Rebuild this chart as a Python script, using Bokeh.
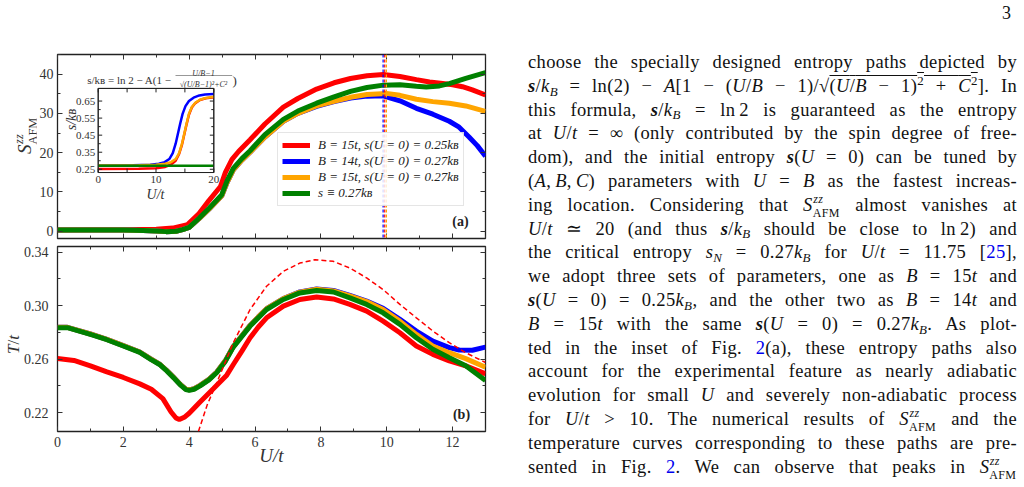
import math
from bokeh.plotting import figure
from bokeh.models import (Range1d, LinearAxis, FixedTicker, Legend, LegendItem, Span,
                          Label, Div, BoxAnnotation, PrintfTickFormatter, CustomLabelingPolicy)
from bokeh.layouts import row, column
from bokeh.embed import file_html
from bokeh.resources import INLINE
from bokeh.core.properties import value

SERIF = "Liberation Serif"
RED, BLUE, ORANGE, GREEN = "#ff0000", "#0000ff", "#ffa500", "#008000"
AXC = "#333333"

# ---------------- data: panel (a) S^zz_AFM vs U/t ----------------
U_a_red = [0.0, 1.0, 2.0, 3.0, 3.5, 3.95, 4.3, 4.6, 4.95, 5.1, 5.3, 5.5, 5.85, 6.3, 6.86,
           7.3, 7.87, 8.4, 8.9, 9.4, 9.9, 10.4, 10.9, 11.3, 11.7, 12.0, 12.3, 12.6, 13.0]
S_red = [0.3, 0.35, 0.4, 0.5, 0.8, 1.7, 4.5, 7.8, 11.4, 15.0, 18.3, 20.3, 23.3, 27.3, 31.6,
         33.8, 36.2, 37.8, 38.9, 39.6, 39.9, 39.4, 38.6, 38.0, 37.6, 37.3, 36.8, 36.0, 34.7]

U_a_blue = [0.0, 1.0, 2.0, 2.6, 3.0, 3.3, 3.6, 3.8, 4.0, 4.3, 4.6, 4.99, 5.15, 5.34, 5.6, 5.85,
            6.3, 6.86, 7.3, 7.87, 8.4, 8.9, 9.4, 9.89, 10.4, 10.9, 11.4, 11.9, 12.2, 12.5, 12.75, 13.0]
S_blue = [0.3, 0.3, 0.3, 0.2, 0.05, -0.1, 0.0, 0.4, 1.0, 3.2, 5.6, 9.0, 12.4, 15.6, 18.1, 20.1,
          24.0, 28.0, 30.0, 31.8, 33.0, 33.9, 34.4, 34.5, 33.2, 31.3, 29.8, 28.0, 26.5, 24.0, 21.8, 19.1]

U_a_orange = [0.0, 1.0, 2.0, 2.6, 3.0, 3.3, 3.6, 3.8, 4.0, 4.3, 4.6, 4.99, 5.15, 5.34, 5.6, 5.85,
              6.3, 6.86, 7.3, 7.87, 8.4, 8.9, 9.4, 9.99, 10.4, 10.9, 11.4, 11.9, 12.4, 13.0]
S_orange = [0.3, 0.3, 0.3, 0.2, 0.05, -0.1, 0.0, 0.4, 1.0, 3.2, 5.6, 9.0, 12.4, 15.6, 18.1, 20.1,
            24.0, 28.0, 30.0, 31.9, 33.1, 34.1, 34.8, 35.1, 34.6, 33.6, 33.0, 32.6, 31.9, 30.5]

U_a_green = [0.0, 1.0, 2.0, 2.6, 3.0, 3.3, 3.6, 3.8, 4.0, 4.3, 4.6, 4.99, 5.15, 5.34, 5.6, 5.85,
             6.3, 6.86, 7.3, 7.87, 8.4, 8.9, 9.4, 9.9, 10.4, 10.9, 11.2, 11.6, 11.9, 12.4, 13.0]
S_green = [0.3, 0.3, 0.3, 0.2, 0.05, -0.1, 0.0, 0.4, 1.0, 3.3, 5.8, 9.3, 12.8, 16.0, 18.5, 20.5,
           24.6, 28.5, 30.6, 32.6, 34.2, 35.6, 36.6, 37.2, 37.3, 36.9, 36.7, 37.0, 37.6, 38.9, 40.4]

# peak positions (vertical dotted lines)
PEAK_U = [9.94, 9.89, 9.99]
PEAK_COLORS = [RED, BLUE, ORANGE]

# ---------------- data: panel (b) T/t vs U/t ----------------
U_b_red = [0.0, 0.5, 1.0, 1.5, 2.0, 2.5, 2.85, 3.2, 3.45, 3.6, 3.7, 3.85, 4.0, 4.33, 4.74, 5.14,
           5.34, 5.6, 5.85, 6.1, 6.35, 6.86, 7.36, 7.87, 8.38, 8.88, 9.39, 9.89, 10.4, 10.9, 11.4,
           11.9, 12.4, 13.0]
T_red = [0.2604, 0.2590, 0.2550, 0.2505, 0.2463, 0.2415, 0.2375, 0.2305, 0.2205, 0.2160, 0.2148,
         0.2165, 0.2195, 0.2280, 0.2380, 0.2480, 0.2560, 0.2660, 0.2760, 0.2840, 0.2909, 0.2996,
         0.3046, 0.3065, 0.3050, 0.3009, 0.2959, 0.2884, 0.2797, 0.2698, 0.2636, 0.2587, 0.2550,
         0.2490]

U_b_blue = [0.0, 0.3, 1.0, 1.5, 2.0, 2.5, 2.82, 3.1, 3.32, 3.55, 3.73, 3.9, 4.0, 4.15, 4.33, 4.6,
            4.84, 5.1, 5.34, 5.6, 5.85, 6.1, 6.35, 6.86, 7.36, 7.87, 8.38, 8.88, 9.39, 9.89, 10.4,
            10.9, 11.4, 11.9, 12.2, 12.6, 13.0]
T_blue = [0.2838, 0.2838, 0.2788, 0.2748, 0.2701, 0.2653, 0.2603, 0.2563, 0.2515, 0.2458, 0.2411,
          0.2376, 0.2370, 0.2379, 0.2404, 0.2449, 0.2504, 0.2589, 0.2694, 0.2775, 0.2852, 0.2916,
          0.2977, 0.3053, 0.3103, 0.3124, 0.3113, 0.3076, 0.3034, 0.2980, 0.2897, 0.2810, 0.2735,
          0.2686, 0.2668, 0.2666, 0.2690]

U_b_orange = [0.0, 0.3, 1.0, 1.5, 2.0, 2.5, 2.82, 3.1, 3.32, 3.55, 3.73, 3.9, 4.0, 4.15, 4.33, 4.6,
              4.84, 5.1, 5.34, 5.6, 5.85, 6.1, 6.35, 6.86, 7.36, 7.87, 8.38, 8.88, 9.39, 9.89, 10.4,
              10.9, 11.4, 11.9, 12.4, 13.0]
T_orange = [0.2838, 0.2838, 0.2788, 0.2748, 0.2701, 0.2653, 0.2603, 0.2563, 0.2515, 0.2458, 0.2411,
            0.2376, 0.2370, 0.2379, 0.2404, 0.2449, 0.2504, 0.2589, 0.2694, 0.2775, 0.2852, 0.2916,
            0.2977, 0.3052, 0.3101, 0.3122, 0.3110, 0.3072, 0.3030, 0.2971, 0.2884, 0.2785, 0.2698,
            0.2648, 0.2604, 0.2540]

U_b_green = [0.0, 0.3, 1.0, 1.5, 2.0, 2.5, 2.82, 3.1, 3.32, 3.55, 3.73, 3.9, 4.0, 4.15, 4.33, 4.6,
             4.84, 5.1, 5.34, 5.6, 5.85, 6.1, 6.35, 6.86, 7.36, 7.87, 8.38, 8.88, 9.39, 9.89, 10.4,
             10.9, 11.4, 11.9, 12.4, 13.0]
T_green = [0.2835, 0.2835, 0.2785, 0.2745, 0.2698, 0.2650, 0.2600, 0.2560, 0.2512, 0.2455, 0.2408,
           0.2372, 0.2366, 0.2375, 0.2400, 0.2445, 0.2500, 0.2585, 0.2690, 0.2770, 0.2847, 0.2910,
           0.2971, 0.3046, 0.3095, 0.3113, 0.3102, 0.3058, 0.3009, 0.2946, 0.2860, 0.2760, 0.2674,
           0.2611, 0.2550, 0.2440]

U_b_dash = [4.28, 4.55, 4.84, 5.34, 5.85, 6.35, 6.86, 7.36, 7.82, 8.38, 8.88, 9.39, 9.89, 10.4,
            10.9, 11.4, 11.9, 12.4, 12.9, 13.0]
T_dash = [0.2059, 0.2260, 0.2425, 0.2723, 0.2971, 0.3145, 0.3256, 0.3318, 0.3343, 0.3331, 0.3281,
          0.3207, 0.3120, 0.3009, 0.2909, 0.2810, 0.2723, 0.2648, 0.2587, 0.2575]

# ---------------- data: inset s/k_B vs U/t ----------------
U_in_red = [0, 7, 10, 11.6, 12.6, 13.4, 14.0, 14.5, 14.9, 15.3, 15.7, 16.2, 16.8, 17.6, 18.6, 20]
s_in_red = [0.252, 0.253, 0.256, 0.264, 0.278, 0.300, 0.340, 0.395, 0.455, 0.515, 0.570, 0.612,
            0.638, 0.656, 0.666, 0.672]
U_in_blue = [0, 6, 9, 10.5, 11.5, 12.3, 12.9, 13.4, 13.8, 14.2, 14.6, 15.1, 15.7, 16.5, 17.5, 18.5, 20]
s_in_blue = [0.272, 0.273, 0.276, 0.282, 0.292, 0.310, 0.345, 0.400, 0.460, 0.520, 0.575, 0.620,
             0.650, 0.670, 0.683, 0.689, 0.692]
U_in_orange = [0, 7, 10, 11.6, 12.6, 13.4, 14.0, 14.5, 14.9, 15.3, 15.7, 16.2, 16.8, 17.6, 18.6, 20]
s_in_orange = [0.272, 0.273, 0.276, 0.282, 0.292, 0.310, 0.345, 0.400, 0.460, 0.520, 0.575, 0.615,
               0.640, 0.658, 0.668, 0.675]
U_in_green = [0, 20]
s_in_green = [0.270, 0.270]

# ---------------- ticks / labels ----------------
X_TICKS = [0, 2, 4, 6, 8, 10, 12]
X_MINOR = [1, 3, 5, 7, 9, 11, 13]
SA_TICKS = [0, 10, 20, 30, 40]
SA_MINOR = [5, 15, 25, 35, 45]
T_TICKS = [0.22, 0.26, 0.30, 0.34]
T_MINOR = [0.24, 0.28, 0.32]
IN_XTICKS = [0, 5, 10, 15, 20]
IN_XLABEL_POS = [0, 10, 20]
IN_XLABELS = ["0", "10", "20"]
IN_YTICKS = [0.25, 0.35, 0.45, 0.55, 0.65]
IN_YLABELS = ["0.25", "0.35", "0.45", "0.55", "0.65"]
IN_YMINOR = [0.30, 0.40, 0.50, 0.60]
LEGEND_LABELS = ["B = 15t, s(U = 0) = 0.25k\u0299",
                 "B = 14t, s(U = 0) = 0.27k\u0299",
                 "B = 15t, s(U = 0) = 0.27k\u0299",
                 "s \u2261 0.27k\u0299"]

NO_LABELS = CustomLabelingPolicy(code="for (const i of indices) indices.unset(i)\nreturn indices")


def style_axis(ax, ticks, minor, show_labels, font_size="14px", standoff=5):
    ax.ticker = FixedTicker(ticks=ticks, minor_ticks=minor)
    ax.axis_line_color = None
    ax.major_tick_in = 5
    ax.major_tick_out = 0
    ax.minor_tick_in = 3
    ax.minor_tick_out = 0
    ax.major_tick_line_color = AXC
    ax.minor_tick_line_color = AXC
    ax.major_label_text_font = SERIF
    ax.major_label_text_color = AXC
    if show_labels:
        ax.major_label_text_font_size = font_size
        ax.major_label_standoff = standoff
    else:
        ax.major_label_policy = NO_LABELS
        ax.major_label_text_font_size = "1px"
        ax.major_label_standoff = 0


def make_fig(width, height, y_range, left, top, bottom):
    p = figure(width=width, height=height, x_range=Range1d(0, 13), y_range=y_range,
               output_backend="svg", toolbar_location=None,
               min_border_left=left, min_border_right=15,
               min_border_top=top, min_border_bottom=bottom)
    p.add_layout(LinearAxis(), "above")
    p.add_layout(LinearAxis(), "right")
    p.xgrid.grid_line_color = None
    p.ygrid.grid_line_color = None
    p.outline_line_color = "#222222"
    p.outline_line_width = 1.3
    p.background_fill_color = "white"
    p.border_fill_color = "white"
    return p


# ================= panel (a) =================
fa = make_fig(464, 242, Range1d(-1.85, 45), 21, 54, 2)
style_axis(fa.below[0], X_TICKS, X_MINOR, False)
style_axis(fa.above[0], X_TICKS, X_MINOR, False)
style_axis(fa.left[0], SA_TICKS, SA_MINOR, True, "14px", 4)
style_axis(fa.right[0], SA_TICKS, SA_MINOR, False)

r_red = fa.line(U_a_red, S_red, line_color=RED, line_width=5)
r_blue = fa.line(U_a_blue, S_blue, line_color=BLUE, line_width=5)
r_orange = fa.line(U_a_orange, S_orange, line_color=ORANGE, line_width=5)
r_green = fa.line(U_a_green, S_green, line_color=GREEN, line_width=5)

for u, c in zip(PEAK_U, PEAK_COLORS):
    fa.add_layout(Span(location=u, dimension="height", line_color=c, line_width=1.2,
                       line_dash="3 2"))

legend = Legend(items=[LegendItem(label=l, renderers=[r]) for l, r in
                       zip(LEGEND_LABELS, [r_red, r_blue, r_orange, r_green])],
                location=(220, 32), label_text_font=SERIF, label_text_font_size="13px",
                label_text_font_style="italic", label_text_color="#222222",
                glyph_width=28, glyph_height=16, label_height=16, label_standoff=8,
                spacing=0, padding=4, margin=0, border_line_color="#cccccc",
                border_line_width=1, background_fill_alpha=0.85)
fa.add_layout(legend, "center")
fa.add_layout(Label(x=403, y=10, x_units="screen", y_units="screen", text="(a)",
                    text_font=SERIF, text_font_style="bold", text_font_size="14px",
                    text_color="#222222", text_align="center"))

# ---------- inset drawn into panel (a) with its own ranges ----------
FW, FH = 428, 186
IN_BOX_LEFT, IN_BOX_BOTTOM, IN_BOX_W, IN_BOX_H = 40.7, 66.7, 115.6, 85.0
ix_lim = (0, 20)
iy_lim = (0.231, 0.724)
kx = IN_BOX_W / (ix_lim[1] - ix_lim[0])
ky = IN_BOX_H / (iy_lim[1] - iy_lim[0])
ix0 = ix_lim[0] - IN_BOX_LEFT / kx
iy0 = iy_lim[0] - IN_BOX_BOTTOM / ky
fa.extra_x_ranges = {"ix": Range1d(ix0, ix0 + FW / kx)}
fa.extra_y_ranges = {"iy": Range1d(iy0, iy0 + FH / ky)}
IN = dict(x_range_name="ix", y_range_name="iy")

fa.quad(left=[ix_lim[0]], right=[ix_lim[1]], bottom=[iy_lim[0]], top=[iy_lim[1]],
        fill_color="white", line_color="#222222", line_width=1, **IN)
fa.line(U_in_red, s_in_red, line_color=RED, line_width=2.5, **IN)
fa.line(U_in_blue, s_in_blue, line_color=BLUE, line_width=2.5, **IN)
fa.line(U_in_orange, s_in_orange, line_color=ORANGE, line_width=2.5, **IN)
fa.line(U_in_green, s_in_green, line_color=GREEN, line_width=2.5, **IN)
fa.quad(left=[ix_lim[0]], right=[ix_lim[1]], bottom=[iy_lim[0]], top=[iy_lim[1]],
        fill_color=None, line_color="#222222", line_width=1, **IN)

tl, tm = 4.0, 2.5
n = len(IN_XTICKS)
fa.segment(x0=IN_XTICKS, y0=[iy_lim[0]] * n, x1=IN_XTICKS, y1=[iy_lim[0] + tl / ky] * n,
           line_color="#222222", **IN)
fa.segment(x0=IN_XTICKS, y0=[iy_lim[1]] * n, x1=IN_XTICKS, y1=[iy_lim[1] - tl / ky] * n,
           line_color="#222222", **IN)
for yt, ln in ((IN_YTICKS, tl), (IN_YMINOR, tm)):
    m = len(yt)
    fa.segment(x0=[ix_lim[0]] * m, y0=yt, x1=[ix_lim[0] + ln / kx] * m, y1=yt,
               line_color="#222222", **IN)
    fa.segment(x0=[ix_lim[1]] * m, y0=yt, x1=[ix_lim[1] - ln / kx] * m, y1=yt,
               line_color="#222222", **IN)
fa.text(x=[ix_lim[0]] * len(IN_YTICKS), y=IN_YTICKS, text=IN_YLABELS, x_offset=-3,
        text_align="right", text_baseline="middle", text_font=value(SERIF),
        text_font_size="11px", text_color=AXC, **IN)
fa.text(x=IN_XLABEL_POS, y=[iy_lim[0]] * len(IN_XLABEL_POS), text=IN_XLABELS, y_offset=3,
        text_align="center", text_baseline="top", text_font=value(SERIF),
        text_font_size="11px", text_color=AXC, **IN)
fa.add_layout(Label(x=14, y=119, x_units="screen", y_units="screen", text="s/k\u0299",
                    angle=math.pi / 2, text_font=SERIF, text_font_style="italic",
                    text_font_size="14px", text_color="#333333", text_align="center",
                    text_baseline="alphabetic"))
fa.add_layout(Label(x=98, y=44, x_units="screen", y_units="screen", text="U/t",
                    text_font=SERIF, text_font_style="italic", text_font_size="14px",
                    text_color="#333333", text_align="center", text_baseline="alphabetic"))
# inset title formula
fa.add_layout(Label(x=29.7, y=159, x_units="screen", y_units="screen",
                    text="s/k\u0299 = ln 2 \u2212 A(1 \u2212 ", text_font=SERIF,
                    text_font_size="11px", text_color="#333333", text_align="left",
                    text_baseline="alphabetic"))
fa.add_layout(Label(x=146, y=165.5, x_units="screen", y_units="screen", text="U/B\u22121",
                    text_font=SERIF, text_font_style="italic", text_font_size="8px",
                    text_color="#333333", text_align="center", text_baseline="alphabetic"))
fa.add_layout(BoxAnnotation(left=118, right=174.7, bottom=162.9, top=163.6,
                            left_units="screen", right_units="screen",
                            bottom_units="screen", top_units="screen",
                            fill_color="#333333", fill_alpha=1, line_color=None))
fa.add_layout(Label(x=146, y=154, x_units="screen", y_units="screen",
                    text="\u221a(U/B\u22121)\u00b2+C\u00b2", text_font=SERIF,
                    text_font_style="italic", text_font_size="8px", text_color="#333333",
                    text_align="center", text_baseline="alphabetic"))
fa.add_layout(Label(x=175, y=158, x_units="screen", y_units="screen", text=")",
                    text_font=SERIF, text_font_size="13px", text_color="#333333",
                    text_align="left", text_baseline="alphabetic"))

# ================= panel (b) =================
fb = make_fig(480, 245, Range1d(0.2059, 0.3442), 37, 3, 56)
style_axis(fb.below[0], X_TICKS, X_MINOR, True, "14px", 5)
style_axis(fb.above[0], X_TICKS, X_MINOR, False)
style_axis(fb.left[0], T_TICKS, T_MINOR, True, "14px", 9)
style_axis(fb.right[0], T_TICKS, T_MINOR, False)
fb.left[0].formatter = PrintfTickFormatter(format="%.2f")
xb = fb.below[0]
xb.axis_label = "U/t"
xb.axis_label_text_font = SERIF
xb.axis_label_text_font_style = "italic"
xb.axis_label_text_font_size = "19px"
xb.axis_label_text_color = "#333333"
xb.axis_label_standoff = -5

fb.line(U_b_red, T_red, line_color=RED, line_width=5)
fb.line(U_b_blue, T_blue, line_color=BLUE, line_width=5)
fb.line(U_b_orange, T_orange, line_color=ORANGE, line_width=5)
fb.line(U_b_green, T_green, line_color=GREEN, line_width=5)
fb.line(U_b_dash, T_dash, line_color=RED, line_width=1.5, line_dash="5 3")
fb.add_layout(Label(x=404, y=10, x_units="screen", y_units="screen", text="(b)",
                    text_font=SERIF, text_font_style="bold", text_font_size="14px",
                    text_color="#222222", text_align="center"))


# ================= HTML text helpers =================
def I(t):
    return f"<i>{t}</i>"


def sub(t):
    return f'<span style="font-size:0.7em;position:relative;top:0.3em">{t}</span>'


def sup(t):
    return f'<span style="font-size:0.7em;position:relative;top:-0.55em">{t}</span>'


def LINK(t):
    return f'<span style="color:#0000ee">{t}</span>'


def safm(fs):
    sc = 0.65 * fs
    lh = 0.85 * sc
    off = (lh - 1.107 * sc) / 2 + 0.891 * sc
    cont_h = 0.8 * fs
    zz_top = -0.41 * fs - off + cont_h
    afm_top = 0.34 * fs - off + cont_h
    return ('<i>S</i><span style="display:inline-block;position:relative;width:1.5em;'
            f'height:{cont_h:.2f}px">'
            f'<span style="position:absolute;left:0.05em;top:{zz_top:.2f}px;font-size:{sc:.2f}px;'
            f'line-height:{lh:.2f}px;font-style:italic">zz</span>'
            f'<span style="position:absolute;left:0;top:{afm_top:.2f}px;font-size:{sc:.2f}px;'
            f'line-height:{lh:.2f}px">AFM</span></span>')


# ---- rotated y-axis labels as HTML (real super/subscripts) ----
ylab_a = (f'<div style="position:relative;width:36px;height:242px">'
          f'<div style="position:absolute;left:15px;top:154px;transform:rotate(-90deg);'
          f'transform-origin:0 0;white-space:nowrap;font-family:\'{SERIF}\',serif;'
          f'font-size:19px;line-height:19px;color:#333333">{safm(19)}</div></div>')
ylab_b = (f'<div style="position:relative;width:20px;height:245px">'
          f'<div style="position:absolute;left:5px;top:112px;transform:rotate(-90deg);'
          f'transform-origin:0 0;white-space:nowrap;font-family:\'{SERIF}\',serif;'
          f'font-size:17px;line-height:17px;color:#333333"><i>T</i>/<i>t</i></div></div>')
div_ya = Div(text=ylab_a, width=36, height=242, margin=0)
div_yb = Div(text=ylab_b, width=20, height=245, margin=0)

# ================= text column =================
SB = "<b><i>s</i></b>"
KB = "<i>k</i>" + sub("<i>B</i>")
SAFM = safm(18.5)
T_ = "&thinsp;"
TEXT_LINES = [
    "choose the specially designed entropy paths depicted by",
    f"{SB}/{KB} = ln(2) \u2212 {I('A')}[1 \u2212 ({I('U')}/{I('B')} \u2212 1)/\u221a"
    f"<span style=\"text-decoration:overline\">({I('U')}/{I('B')} \u2212 1){sup('2')} + {I('C')}{sup('2')}</span>]. In",
    f"this formula, {SB}/{KB} = ln{T_}2 is guaranteed as the entropy",
    f"at {I('U')}/{I('t')} = \u221e (only contributed by the spin degree of free-",
    f"dom), and the initial entropy {SB}({I('U')} = 0) can be tuned by",
    f"({I('A')},{T_}{I('B')},{T_}{I('C')}) parameters with {I('U')} = {I('B')} as the fastest increas-",
    f"ing location. Considering that {SAFM} almost vanishes at",
    f"{I('U')}/{I('t')} \u2243 20 (and thus {SB}/{KB} should be close to ln{T_}2) and",
    f"the critical entropy {I('s')}{sub(I('N'))} = 0.27{KB} for {I('U')}/{I('t')} = 11.75 [{LINK('25')}],",
    f"we adopt three sets of parameters, one as {I('B')} = 15{I('t')} and",
    f"{SB}({I('U')} = 0) = 0.25{KB}, and the other two as {I('B')} = 14{I('t')} and",
    f"{I('B')} = 15{I('t')} with the same {SB}({I('U')} = 0) = 0.27{KB}. As plot-",
    f"ted in the inset of Fig. {LINK('2')}(a), these entropy paths also",
    "account for the experimental feature as nearly adiabatic",
    f"evolution for small {I('U')} and severely non-adiabatic process",
    f"for {I('U')}/{I('t')} &gt; 10. The numerical results of {SAFM} and the",
    "temperature curves corresponding to these paths are pre-",
    f"sented in Fig. {LINK('2')}. We can observe that peaks in {SAFM}",
]
lines_html = "".join(
    f'<div style="text-align:justify;text-align-last:justify;height:23.8px">{ln}</div>'
    for ln in TEXT_LINES)
html = (f'<div style="position:relative;width:524px;height:487px;font-family:\'{SERIF}\',serif;'
        f'color:#111111;background:white;overflow:hidden">'
        f'<div style="position:absolute;left:502px;top:4px;font-size:18px;line-height:18px">3</div>'
        f'<div style="position:absolute;left:28px;top:51px;width:489px;font-size:18.5px;'
        f'letter-spacing:0.35px;line-height:23.8px">{lines_html}</div></div>')
div = Div(text=html, width=524, height=487, margin=0)

left_col = column(row(div_ya, fa, spacing=0), row(div_yb, fb, spacing=0), spacing=0)
layout = row(left_col, div, spacing=0)
open("out.html", "w").write(file_html(layout, INLINE))
